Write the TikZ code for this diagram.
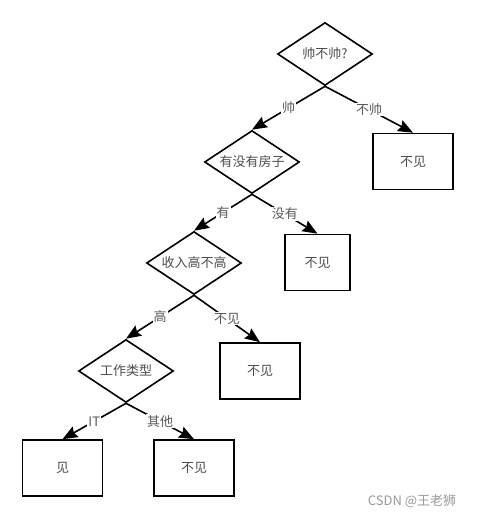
\documentclass[tikz,border=0pt]{standalone}
\usepackage{fontspec}
\setmainfont{Noto Sans CJK SC}
\usetikzlibrary{shapes.geometric,arrows.meta}

\tikzset{
  dtdiamond/.style={diamond, draw, line width=1.6pt, aspect=1.5, inner sep=0pt, minimum width=95pt, minimum height=63pt, font=\fontsize{13}{14}\selectfont, text=black!70},
  dtbox/.style={draw, line width=1.6pt, minimum width=80pt, minimum height=56pt, inner sep=0pt, font=\fontsize{13}{14}\selectfont, text=black!70},
  dtarr/.style={-{Stealth[length=15pt,width=12pt,inset=2pt]}, line width=1.6pt},
  dtlab/.style={fill=white, inner sep=1pt, font=\fontsize{13}{14}\selectfont, text=black!65}
}

\begin{document}
\begin{tikzpicture}[x=1pt,y=-1pt]
        \useasboundingbox (0,0) rectangle (476,518);

        \node[dtdiamond] (looks) at (325,54) {帅不帅?};
        \node[dtbox] (no1) at (413,161.5) {不见};
        \node[dtdiamond] (house) at (252,162) {有没有房子};
        \node[dtbox, minimum width=65pt] (no2) at (317.5,262.5) {不见};
        \node[dtdiamond] (income) at (194,263) {收入高不高};
        \node[dtbox] (no3) at (260,371) {不见};
        \node[dtdiamond] (job) at (126,371) {工作类型};
        \node[dtbox] (yes) at (62.5,468) {见};
        \node[dtbox] (no4) at (194,468) {不见};

        \draw[dtarr] (looks.south) -- node[dtlab] {帅} (house.north);
        \draw[dtarr] (looks.south) -- node[dtlab] {不帅} (no1.north);
        \draw[dtarr] (house.south) -- node[dtlab] {有} (income.north);
        \draw[dtarr] (house.south) -- node[dtlab] {没有} (no2.north);
        \draw[dtarr] (income.south) -- node[dtlab] {高} (job.north);
        \draw[dtarr] (income.south) -- node[dtlab] {不见} (no3.north);
        \draw[dtarr] (job.south) -- node[dtlab] {IT} (yes.north);
        \draw[dtarr] (job.south) -- node[dtlab] {其他} (no4.north);

        \node[font=\fontsize{13}{14}\selectfont, text=black!40] (mark) at (412,501) {CSDN @王老狮};
    \end{tikzpicture}
\end{document}
